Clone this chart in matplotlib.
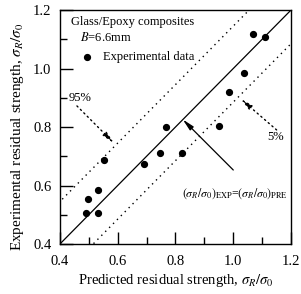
import numpy as np
import matplotlib
matplotlib.use("Agg")
import matplotlib.pyplot as plt

plt.rcParams['font.family'] = ['Liberation Serif', 'DejaVu Serif']
plt.rcParams['mathtext.fontset'] = 'stix'

# predicted vs experimental residual strength (sigma_R / sigma_0)
predicted = [1.067, 1.110, 1.037, 0.986, 0.767, 0.950, 0.553, 0.692,
             0.745, 0.821, 0.531, 0.497, 0.490, 0.531]
experimental = [1.117, 1.109, 0.986, 0.920, 0.800, 0.802, 0.687, 0.674,
                0.711, 0.711, 0.585, 0.553, 0.505, 0.505]

# scatter band offsets (95% upper, 5% lower)
upper_offset = 0.145
lower_offset = -0.115

xticks = [0.4, 0.6, 0.8, 1.0, 1.2]
yticks = [0.4, 0.6, 0.8, 1.0, 1.2]

fig = plt.figure(figsize=(3.01, 2.94), dpi=100)
ax = fig.add_axes([0.199, 0.170, 0.768, 0.796])

line = np.array([0.3, 1.3])
ax.plot(line, line, color='black', lw=0.9)
ax.plot(line, line + upper_offset, color='black', lw=1.0, ls=(0, (1, 3)))
ax.plot(line, line + lower_offset, color='black', lw=1.0, ls=(0, (1, 3)))

ax.plot(predicted, experimental, 'o', color='black', ms=4.2, clip_on=False)

# legend-like text block
ax.text(0.437, 1.16, 'Glass/Epoxy composites', fontsize=9, va='center')
ax.text(0.468, 1.105, r'$B$=6.6mm', fontsize=9, va='center')
ax.plot([0.493], [1.041], 'o', color='black', ms=4.2)
ax.text(0.549, 1.041, 'Experimental data', fontsize=9, va='center')

# 95% / 5% labels with dotted arrows
ax.text(0.43, 0.90, '95%', fontsize=9, va='center', ha='left')
ax.annotate('', xy=(0.587, 0.745), xytext=(0.459, 0.872),
            arrowprops=dict(arrowstyle='-|>,head_length=0.7,head_width=0.15',
                            color='black', lw=1.0, ls=(0, (1, 2.5)),
                            shrinkA=0, shrinkB=0))
ax.text(1.145, 0.766, '5%', fontsize=9, va='center', ha='center')
ax.annotate('', xy=(1.026, 0.896), xytext=(1.150, 0.790),
            arrowprops=dict(arrowstyle='-|>,head_length=0.7,head_width=0.15',
                            color='black', lw=1.0, ls=(0, (1, 2.5)),
                            shrinkA=0, shrinkB=0))

# 1:1 line label
ax.annotate('', xy=(0.825, 0.826), xytext=(1.0, 0.653),
            arrowprops=dict(arrowstyle='-|>,head_length=0.7,head_width=0.15',
                            color='black', lw=0.9, shrinkA=0, shrinkB=0))
ax.text(1.006, 0.571, r'$(\sigma_R/\sigma_0)_{\mathrm{EXP}}$=$(\sigma_R/\sigma_0)_{\mathrm{PRE}}$',
        fontsize=8.5, ha='center', va='center')

ax.set_xlim(0.4, 1.2)
ax.set_ylim(0.4, 1.2)
ax.set_xticks(xticks)
ax.set_yticks(yticks)
ax.set_xticks(np.arange(0.5, 1.2, 0.2), minor=True)
ax.set_yticks(np.arange(0.5, 1.2, 0.2), minor=True)
ax.set_xticklabels(['%.1f' % t for t in xticks])
ax.set_yticklabels(['%.1f' % t for t in yticks])
ax.tick_params(which='both', direction='in', top=False, right=False,
               labelsize=10.5, width=1.0)
ax.tick_params(axis='x', pad=8)
ax.tick_params(axis='y', pad=6)
ax.tick_params(which='major', length=9)
ax.tick_params(which='minor', length=5)
for s in ax.spines.values():
    s.set_linewidth(1.0)

ax.set_xlabel(r'Predicted residual strength, $\sigma_R/\sigma_0$', fontsize=10.5, labelpad=3)
ax.set_ylabel(r'Experimental residual strength, $\sigma_R/\sigma_0$', fontsize=11)
ax.yaxis.set_label_coords(-0.145, 0.46)

fig.savefig('out.png', dpi=100)
